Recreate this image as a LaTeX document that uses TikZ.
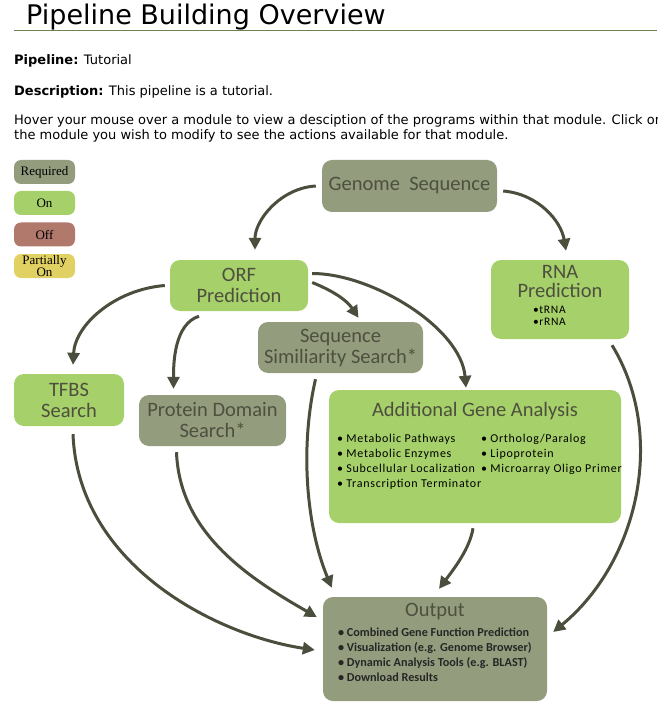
\documentclass[tikz,border=0pt]{standalone}
\usepackage{fontspec}
\setmainfont{Liberation Serif}
\newfontfamily\modfont{Carlito}
\newfontfamily\listfont[LetterSpace=6]{Carlito}
\newfontfamily\webfont{DejaVu Sans}
\newfontfamily\titlefont{DejaVu Sans}
\usetikzlibrary{arrows.meta,calc}

\definecolor{reqgray}{HTML}{939D7D}
\definecolor{ongreen}{HTML}{A6D069}
\definecolor{offred}{HTML}{B0796C}
\definecolor{partyel}{HTML}{E1D062}
\definecolor{modtext}{HTML}{4E4F3F}
\definecolor{flowline}{HTML}{4A4E3C}
\definecolor{rulegreen}{HTML}{6F8250}

\tikzset{
  module/.style={rounded corners=10pt, inner sep=0pt, align=center, text=modtext,
    font=\modfont\fontsize{20.5}{21}\selectfont},
  modhead/.style={inner sep=0pt, align=center, text=modtext,
    font=\modfont\fontsize{20.5}{19.5}\selectfont},
  legendbox/.style={rounded corners=7pt, minimum width=61pt, minimum height=24pt,
    inner sep=0pt, align=center, font=\fontsize{13}{10}\selectfont},
  bullets/.style={anchor=north west, align=left, inner sep=0pt,
    font=\listfont\fontsize{12}{15.2}\selectfont},
  webtext/.style={anchor=base west, inner sep=0pt, align=left,
    font=\webfont\fontsize{13}{15}\selectfont},
  flow/.style={draw=flowline, line width=3pt, -{Triangle[length=12pt,width=12pt]}}
}

\begin{document}
\begin{tikzpicture}[x=1pt, y=-1pt]

  %% ════ page header ════
  \node[anchor=base west, inner sep=0pt, font=\titlefont\fontsize{27}{27}\selectfont] (title) at (26,25) {Pipeline Building Overview};
  \draw[rulegreen, line width=1.2pt] (14,30.5) -- (657,30.5);
  \node[webtext] (pipeline) at (14,65) {\textbf{Pipeline:} Tutorial};
  \node[webtext] (descr) at (14,96) {\textbf{Description:} This pipeline is a tutorial.};
  \node[webtext, anchor=north west] (hover) at (14,114) {Hover your mouse over a module to view a desciption of the programs within that module. Click on\\the module you wish to modify to see the actions available for that module.};

  %% ════ legend ════
  \node[legendbox, fill=reqgray] (lreq) at (44.5,172) {Required};
  \node[legendbox, fill=ongreen] (lon) at (44.5,203) {On};
  \node[legendbox, fill=offred] (loff) at (44.5,234.5) {Off};
  \node[legendbox, fill=partyel] (lpart) at (44.5,266) {Partially\\On};

  %% ════ modules ════
  \node[module, fill=reqgray, minimum width=175pt, minimum height=52pt] (genome) at (409.5,186) {Genome\ \ Sequence};
  \node[module, fill=ongreen, minimum width=138pt, minimum height=51pt] (orf) at (239,285.5) {ORF\\Prediction};
  \node[module, fill=ongreen, minimum width=138pt, minimum height=79pt] (rna) at (560,299.5) {};
  \node[module, fill=reqgray, minimum width=165pt, minimum height=51pt] (seqsim) at (340.5,347.5) {Sequence\\Similiarity Search*};
  \node[module, fill=ongreen, minimum width=110pt, minimum height=52pt] (tfbs) at (69,400) {TFBS\\Search};
  \node[module, fill=reqgray, minimum width=147pt, minimum height=51pt] (prot) at (212.5,420.5) {Protein Domain\\Search*};
  \node[module, fill=ongreen, minimum width=292pt, minimum height=133pt] (addl) at (475,456.5) {};
  \node[module, fill=reqgray, minimum width=224pt, minimum height=104pt] (outp) at (435,649) {};

  %% ════ module texts ════
  \node[modhead] (rnahead) at ($(rna.north)+(0,21.5)$) {RNA\\Prediction};
  \node[bullets, font=\listfont\fontsize{11.5}{11.7}\selectfont] (rnalist) at ($(rna.north west)+(42,46)$) {\textbullet tRNA\\\textbullet rRNA};
  \node[modhead] (addlhead) at ($(addl.north)+(0,21)$) {Additional Gene Analysis};
  \node[bullets] (addlleft) at ($(addl.north west)+(8,44)$) {\textbullet\ Metabolic Pathways\\\textbullet\ Metabolic Enzymes\\\textbullet\ Subcellular Localization\\\textbullet\ Transcription Terminator};
  \node[bullets] (addlright) at ($(addl.north west)+(152,44)$) {\textbullet\ Ortholog/Paralog\\\textbullet\ Lipoprotein\\\textbullet\ Microarray Oligo Primer};
  \node[modhead] (outhead) at ($(outp.north)+(0,15)$) {Output};
  \node[bullets, font=\modfont\bfseries\fontsize{12.2}{15}\selectfont, text=black!85] (outlist) at ($(outp.north west)+(15,31)$) {\textbullet\ Combined Gene Function Prediction\\\textbullet\ Visualization (e.g. Genome Browser)\\\textbullet\ Dynamic Analysis Tools (e.g. BLAST)\\\textbullet\ Download Results};

  %% ════ flow arrows ════
  \draw[flow] ($(genome.west)+(-6,0)$) .. controls +(-35,2) and +(0,-30) .. ($(orf.north)+(16,-10)$);
  \draw[flow] ($(genome.east)+(6,5)$) .. controls +(35,3) and +(-5,-30) .. ($(rna.north)+(6,-9)$);
  \draw[flow] ($(orf.west)+(-5,0)$) .. controls +(-50,4) and +(2,-40) .. ($(tfbs.north)+(4,-9)$);
  \draw[flow] ($(orf.south)+(-40,5)$) .. controls +(-25,8) and +(0,-25) .. ($(prot.north)+(-39,-6)$);
  \draw[flow] ($(orf.east)+(4,-3)$) .. controls +(20,8) and +(-12,-18) .. ($(seqsim.north)+(18,-4)$);
  \draw[flow] ($(orf.east)+(4,-12)$) .. controls +(60,0) and +(-5,-60) .. ($(addl.north)+(-9,-2)$);
  \draw[flow] ($(seqsim.south)+(-25,6)$) .. controls +(-16,70) and +(-25,-60) .. ($(outp.north west)+(9,-9)$);
  \draw[flow] ($(prot.south)+(-36,6)$) .. controls +(3,80) and +(-70,-40) .. ($(outp.west)+(-6,-32)$);
  \draw[flow] ($(tfbs.south)+(4,8)$) .. controls +(5,130) and +(-100,-15) .. ($(outp.west)+(-8,1)$);
  \draw[flow] ($(addl.south)+(-2,5)$) .. controls +(-3,20) and +(15,-20) .. ($(outp.north)+(4,-8)$);
  \draw[flow] ($(rna.south)+(52,6)$) .. controls +(55,90) and +(85,-70) .. ($(outp.east)+(6,-17)$);

  % fix the canvas to the reference size
  \pgfresetboundingbox
  \path[use as bounding box] (0,0) rectangle (657,708);
\end{tikzpicture}
\end{document}
